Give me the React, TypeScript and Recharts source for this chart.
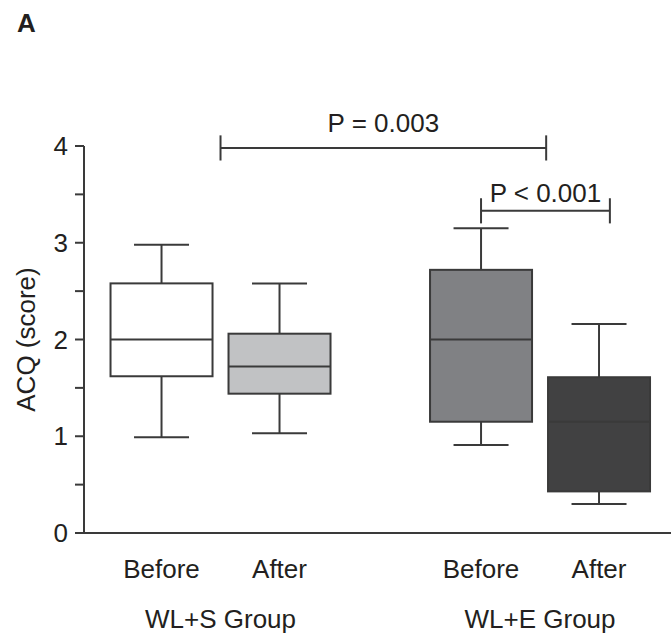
import { ComposedChart, Bar, XAxis, YAxis, ReferenceLine } from 'recharts';

// ── Values ──────────────────────────────────────────────────────────────
const groups = ['WL+S Group', 'WL+E Group'];
const phases = ['Before', 'After', 'Before', 'After'];
const groupOf = [0, 0, 1, 1];
const lowWhisker = [0.99, 1.03, 0.91, 0.3];
const q1 = [1.62, 1.44, 1.15, 0.43];
const medians = [2.0, 1.72, 2.0, 1.15];
const q3 = [2.58, 2.06, 2.72, 1.61];
const highWhisker = [2.98, 2.58, 3.15, 2.16];
const yTicks = [0, 0.5, 1, 1.5, 2, 2.5, 3, 3.5, 4];
const pLabels = ['P = 0.003', 'P < 0.001'];

// ── Layout / style ──────────────────────────────────────────────────────
const GROUP_STEP = 2.708; // distance between the two groups, in box slots
const X_DOMAIN: [number, number] = [-0.657, 4.318];
const FILLS = ['#ffffff', '#c1c2c4', '#808184', '#414142'];
const INK = '#3a3a3a';
const TEXT = '#231f20';
const FONT = '"Liberation Sans", Arial, Helvetica, sans-serif';
const FS = 26;

const data = phases.map((phase, i) => ({
  pos: groupOf[i] * GROUP_STEP + (i % 2),
  phase,
  group: groupOf[i],
  box: [q1[i], q3[i]],
  low: lowWhisker[i],
  med: medians[i],
  high: highWhisker[i],
  fill: FILLS[i],
}));
const groupCenters = groups.map((_, g) => g * GROUP_STEP + 0.5);

// box + whiskers, drawn from the bar's own q1..q3 geometry
// eslint-disable-next-line @typescript-eslint/no-explicit-any
const BoxShape = (props: any) => {
  const { x, y, width, height, payload } = props;
  const [lo, hi] = payload.box;
  const top = Math.min(y, y + height);
  const h = Math.abs(height);
  const ppu = h / (hi - lo);
  const toY = (v: number) => top + (hi - v) * ppu;
  const cx = x + width / 2;
  const cap = 27.5;
  const line = { stroke: INK, strokeWidth: 2 };
  return (
    <g>
      <line x1={cx} x2={cx} y1={toY(payload.high)} y2={top} {...line} />
      <line x1={cx - cap} x2={cx + cap} y1={toY(payload.high)} y2={toY(payload.high)} {...line} />
      <line x1={cx} x2={cx} y1={top + h} y2={toY(payload.low)} {...line} />
      <line x1={cx - cap} x2={cx + cap} y1={toY(payload.low)} y2={toY(payload.low)} {...line} />
      <rect x={x} y={top} width={width} height={h} fill={payload.fill} {...line} />
      <line x1={x} x2={x + width} y1={toY(payload.med)} y2={toY(payload.med)} {...line} />
    </g>
  );
};

// phase label under each box; the first box of a group also carries the group name
// eslint-disable-next-line @typescript-eslint/no-explicit-any
const PhaseTick = ({ x, y, width, payload }: any) => {
  const d = data.find(p => Math.abs(p.pos - payload.value) < 1e-6);
  if (!d) return null;
  const slot = (width || 587) / (X_DOMAIN[1] - X_DOMAIN[0]);
  const first = d.pos === groupCenters[d.group] - 0.5;
  return (
    <g fill={TEXT} fontSize={FS} fontFamily={FONT}>
      <text x={x} y={y + 45} textAnchor="middle">{d.phase}</text>
      {first && <text x={x + slot * 0.5} y={y + 95} textAnchor="middle">{groups[d.group]}</text>}
    </g>
  );
};

// eslint-disable-next-line @typescript-eslint/no-explicit-any
const YTitle = ({ viewBox }: any) => {
  const cx = viewBox.x + 26;
  const cy = viewBox.y + viewBox.height / 2;
  return (
    <text x={cx} y={cy} transform={`rotate(-90, ${cx}, ${cy})`} textAnchor="middle" dominantBaseline="central"
      fill={TEXT} fontSize={FS} fontFamily={FONT}>
      ACQ (score)
    </text>
  );
};

const bracket = (x1: number, x2: number, level: number, label: string, offset: number) => {
  const arm = 0.13;
  return [
    <ReferenceLine key={label + 'h'} ifOverflow="visible" stroke={INK} strokeWidth={2}
      segment={[{ x: x1, y: level }, { x: x2, y: level }]}
      label={{ value: label, position: 'top', offset, fill: TEXT, fontSize: FS, fontFamily: FONT }} />,
    <ReferenceLine key={label + 'l'} ifOverflow="visible" stroke={INK} strokeWidth={2}
      segment={[{ x: x1, y: level - arm }, { x: x1, y: level + arm }]} />,
    <ReferenceLine key={label + 'r'} ifOverflow="visible" stroke={INK} strokeWidth={2}
      segment={[{ x: x2, y: level - arm }, { x: x2, y: level + arm }]} />,
  ];
};

export default function App() {
  return (
    <div style={{ position: 'absolute', left: 0, top: 0, width: 671, height: 642, background: '#fff', fontFamily: FONT }}>
      <div style={{ position: 'absolute', left: 17, top: 10, fontSize: 26, lineHeight: '26px', fontWeight: 700, color: TEXT }}>A</div>
      <ComposedChart width={671} height={642} data={data} margin={{ top: 146, right: 0, bottom: 0, left: 0 }}>
        <XAxis type="number" dataKey="pos" domain={X_DOMAIN} allowDataOverflow
          ticks={data.map(d => d.pos)} tick={<PhaseTick />} tickLine={false} tickSize={0} tickMargin={0}
          height={109} axisLine={{ stroke: INK, strokeWidth: 2 }} interval={0} />
        <YAxis type="number" domain={[0, 4]} ticks={yTicks} width={84} interval={0}
          tickFormatter={(v: number) => (Number.isInteger(v) ? String(v) : '')}
          tick={{ fill: TEXT, fontSize: FS, fontFamily: FONT }} tickSize={9} tickMargin={7}
          axisLine={{ stroke: INK, strokeWidth: 2 }} tickLine={{ stroke: INK, strokeWidth: 2 }}
          label={<YTitle />} />
        <Bar dataKey="box" barSize={102} shape={<BoxShape />} isAnimationActive={false} />
        {bracket(groupCenters[0], 3.26, 3.98, pLabels[0], 16)}
        {bracket(data[2].pos, 3.80, 3.33, pLabels[1], 9)}
      </ComposedChart>
    </div>
  );
}
